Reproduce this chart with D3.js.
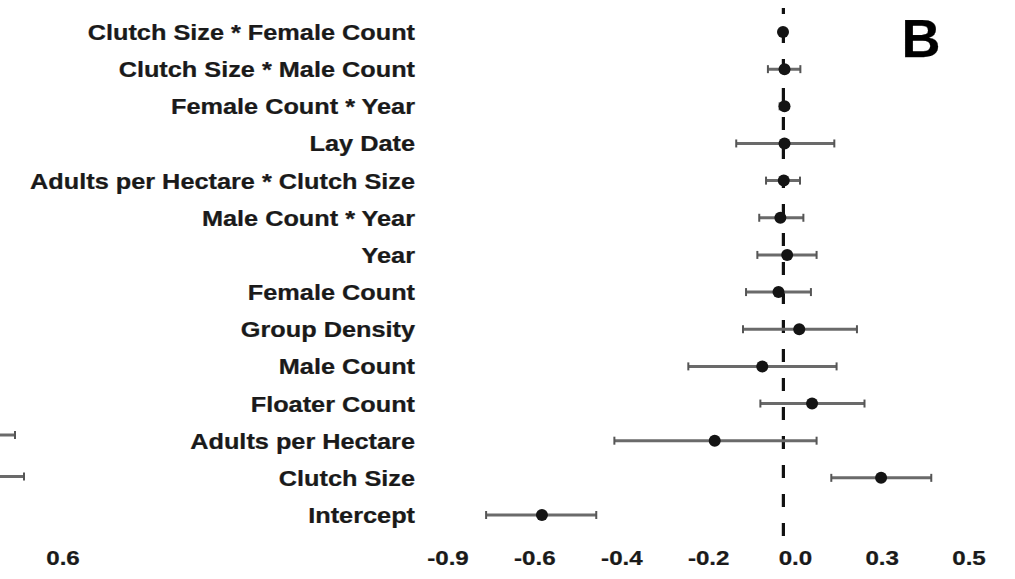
<!DOCTYPE html>
<html>
<head>
<meta charset="utf-8">
<script src="https://cdn.jsdelivr.net/npm/d3@7"></script>
<style>
  html, body { margin: 0; padding: 0; background: #fff; }
  svg { display: block; }
  text { font-family: "Liberation Sans", Arial, Helvetica, sans-serif; font-weight: bold; fill: #1a1a1a; stroke: #1a1a1a; stroke-width: 0.25px; }
</style>
</head>
<body>
<svg id="chart" width="1015" height="579"></svg>
<script>
// Model terms, top to bottom
const terms = [
  "Clutch Size * Female Count",
  "Clutch Size * Male Count",
  "Female Count * Year",
  "Lay Date",
  "Adults per Hectare * Clutch Size",
  "Male Count * Year",
  "Year",
  "Female Count",
  "Group Density",
  "Male Count",
  "Floater Count",
  "Adults per Hectare",
  "Clutch Size",
  "Intercept"
];
// Coefficient estimates and 95% interval bounds
const estimate = [-0.001, 0.003, 0.003, 0.003, 0.001, -0.008, 0.010, -0.013, 0.042, -0.056, 0.076, -0.182, 0.259, -0.640];
const lower    = [-0.006, -0.041, -0.010, -0.125, -0.046, -0.064, -0.069, -0.099, -0.107, -0.252, -0.061, -0.448, 0.127, -0.788];
const upper    = [0.005, 0.045, 0.012, 0.135, 0.044, 0.053, 0.088, 0.073, 0.195, 0.141, 0.215, 0.088, 0.392, -0.496];

// Axis ticks (evenly spaced) and their printed labels
const xTickValues = [-0.889, -0.659, -0.428, -0.198, 0.032, 0.262, 0.492];
const xTickLabels = ["-0.9", "-0.6", "-0.4", "-0.2", "0.0", "0.3", "0.5"];

// Neighbouring panel A: rows that reach into view, their upper bounds and edge tick
const panelATerms = ["Adults per Hectare", "Clutch Size"];
const panelAUpper = [0.44, 0.47];
const panelATickValues = [0.6];
const panelATickLabels = ["0.6"];

const svg = d3.select("#chart");
const STRETCH = 1.15;

// ---- Panel B ----
const x = d3.scaleLinear().domain([-0.889, 0.492]).range([448, 969]);
const y = d3.scalePoint().domain(terms).range([32, 515]);

const rows = terms.map((t, i) => ({ term: t, est: estimate[i], lo: lower[i], hi: upper[i] }));

// term labels
svg.append("g").selectAll("text").data(terms).join("text")
  .attr("transform", d => `translate(415,${y(d) + 8}) scale(${STRETCH},1)`)
  .attr("text-anchor", "end")
  .style("font-size", "22px")
  .text(d => d);

// reference line at zero
svg.append("line")
  .attr("x1", x(0)).attr("x2", x(0))
  .attr("y1", 8).attr("y2", 540)
  .attr("stroke", "#111").attr("stroke-width", 3.2)
  .attr("stroke-dasharray", "13,16")
  .attr("stroke-dashoffset", 7);

const g = svg.append("g");
// interval whiskers
g.selectAll("line.ci").data(rows).join("line").attr("class", "ci")
  .attr("x1", d => x(d.lo)).attr("x2", d => x(d.hi))
  .attr("y1", d => y(d.term)).attr("y2", d => y(d.term))
  .attr("stroke", "#6a6a6a").attr("stroke-width", 3);
// end caps
["lo", "hi"].forEach(k => {
  g.selectAll("line.cap-" + k).data(rows).join("line").attr("class", "cap-" + k)
    .attr("x1", d => x(d[k])).attr("x2", d => x(d[k]))
    .attr("y1", d => y(d.term) - 4).attr("y2", d => y(d.term) + 4)
    .attr("stroke", "#555").attr("stroke-width", 2);
});
// estimates
g.selectAll("circle").data(rows).join("circle")
  .attr("cx", d => x(d.est)).attr("cy", d => y(d.term))
  .attr("r", 6).attr("fill", "#141414");

// x axis labels
svg.append("g").selectAll("text").data(xTickValues).join("text")
  .attr("transform", d => `translate(${x(d)},565) scale(${STRETCH},1)`)
  .attr("text-anchor", "middle")
  .style("font-size", "21px")
  .text((d, i) => xTickLabels[i]);

// panel letter
svg.append("text")
  .attr("x", 921).attr("y", 57)
  .attr("text-anchor", "middle")
  .style("font-size", "54px")
  .style("fill", "#000")
  .text("B");

// ---- Panel A (right edge only) ----
const xA = d3.scaleLinear().domain([0.3, 0.6]).range([-27, 63]);
const yA = d3.scalePoint().domain(panelATerms).range([435, 476.5]);
const aRows = panelATerms.map((t, i) => ({ term: t, hi: panelAUpper[i] }));
const gA = svg.append("g");
gA.selectAll("line.ci").data(aRows).join("line").attr("class", "ci")
  .attr("x1", 0).attr("x2", d => xA(d.hi))
  .attr("y1", d => yA(d.term)).attr("y2", d => yA(d.term))
  .attr("stroke", "#6a6a6a").attr("stroke-width", 3);
gA.selectAll("line.cap").data(aRows).join("line").attr("class", "cap")
  .attr("x1", d => xA(d.hi)).attr("x2", d => xA(d.hi))
  .attr("y1", d => yA(d.term) - 4).attr("y2", d => yA(d.term) + 4)
  .attr("stroke", "#555").attr("stroke-width", 2);
svg.append("g").selectAll("text").data(panelATickValues).join("text")
  .attr("transform", d => `translate(${xA(d)},565) scale(${STRETCH},1)`)
  .attr("text-anchor", "middle")
  .style("font-size", "21px")
  .text((d, i) => panelATickLabels[i]);
</script>
</body>
</html>
